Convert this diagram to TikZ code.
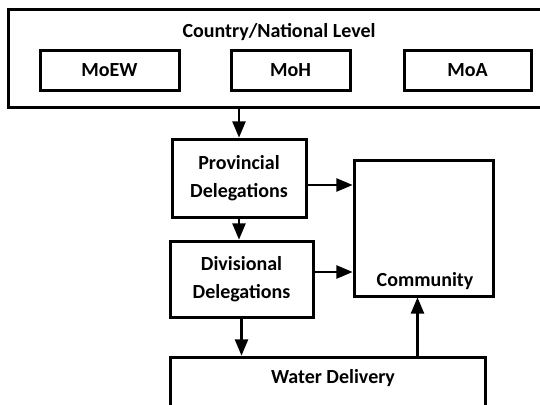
\documentclass[tikz,border=0pt]{standalone}
\usepackage{fontspec}
\setmainfont{Carlito}
\usepackage{tikz}
\usetikzlibrary{shapes,arrows,positioning,fit,calc}

\begin{document}
\begin{tikzpicture}[x=1pt,y=-1pt,
    box/.style={draw, line width=3pt, rectangle, inner sep=0pt},
    lbl/.style={font=\fontsize{20}{28.5}\selectfont\bfseries, align=center},
    arr/.style={->, >=triangle 45, line width=2.8pt}]
            \clip (0,0) rectangle (540,404);
            % national level
            \node[box, minimum width=562pt, minimum height=97pt] (natl) at (289,58.5) {};
            \node[lbl] (title) at (279,32) {Country/National Level};
            \node[box, lbl, minimum width=139pt, minimum height=39pt] (moew) at (109.5,70.5) {MoEW};
            \node[box, lbl, minimum width=119pt, minimum height=39pt] (moh) at (290.5,70.5) {MoH};
            \node[box, lbl, minimum width=127pt, minimum height=39pt] (moa) at (467.5,70.5) {MoA};
            % delegations
            \node[box, lbl, minimum width=134pt, minimum height=78pt] (prov) at (239,178) {Provincial\\Delegations};
            \node[box, lbl, minimum width=143pt, minimum height=76pt] (divn) at (241.5,279) {Divisional\\Delegations};
            % community and water delivery
            \node[box, minimum width=139pt, minimum height=136pt] (comm) at (423.5,228) {};
            \node[lbl] (commlbl) at (425,281) {Community};
            \node[box, minimum width=315pt, minimum height=83pt] (water) at (327.5,398.5) {};
            \node[lbl] (waterlbl) at (333,378) {Water Delivery};
            \coordinate (up) at ([xshift=-6pt]comm.south);
            \draw[arr] (prov.north |- natl.south) -- (prov.north);
            \draw[arr] (prov.south) -- (prov.south |- divn.north);
            \draw[arr] (divn.south) -- (divn.south |- water.north);
            \draw[arr] ([yshift=-7pt]prov.east) -- ([yshift=-7pt]prov.east -| comm.west);
            \draw[arr] ([yshift=7pt]divn.east) -- ([yshift=7pt]divn.east -| comm.west);
            \draw[arr] (up |- water.north) -- (up);
        \end{tikzpicture}
\end{document}
